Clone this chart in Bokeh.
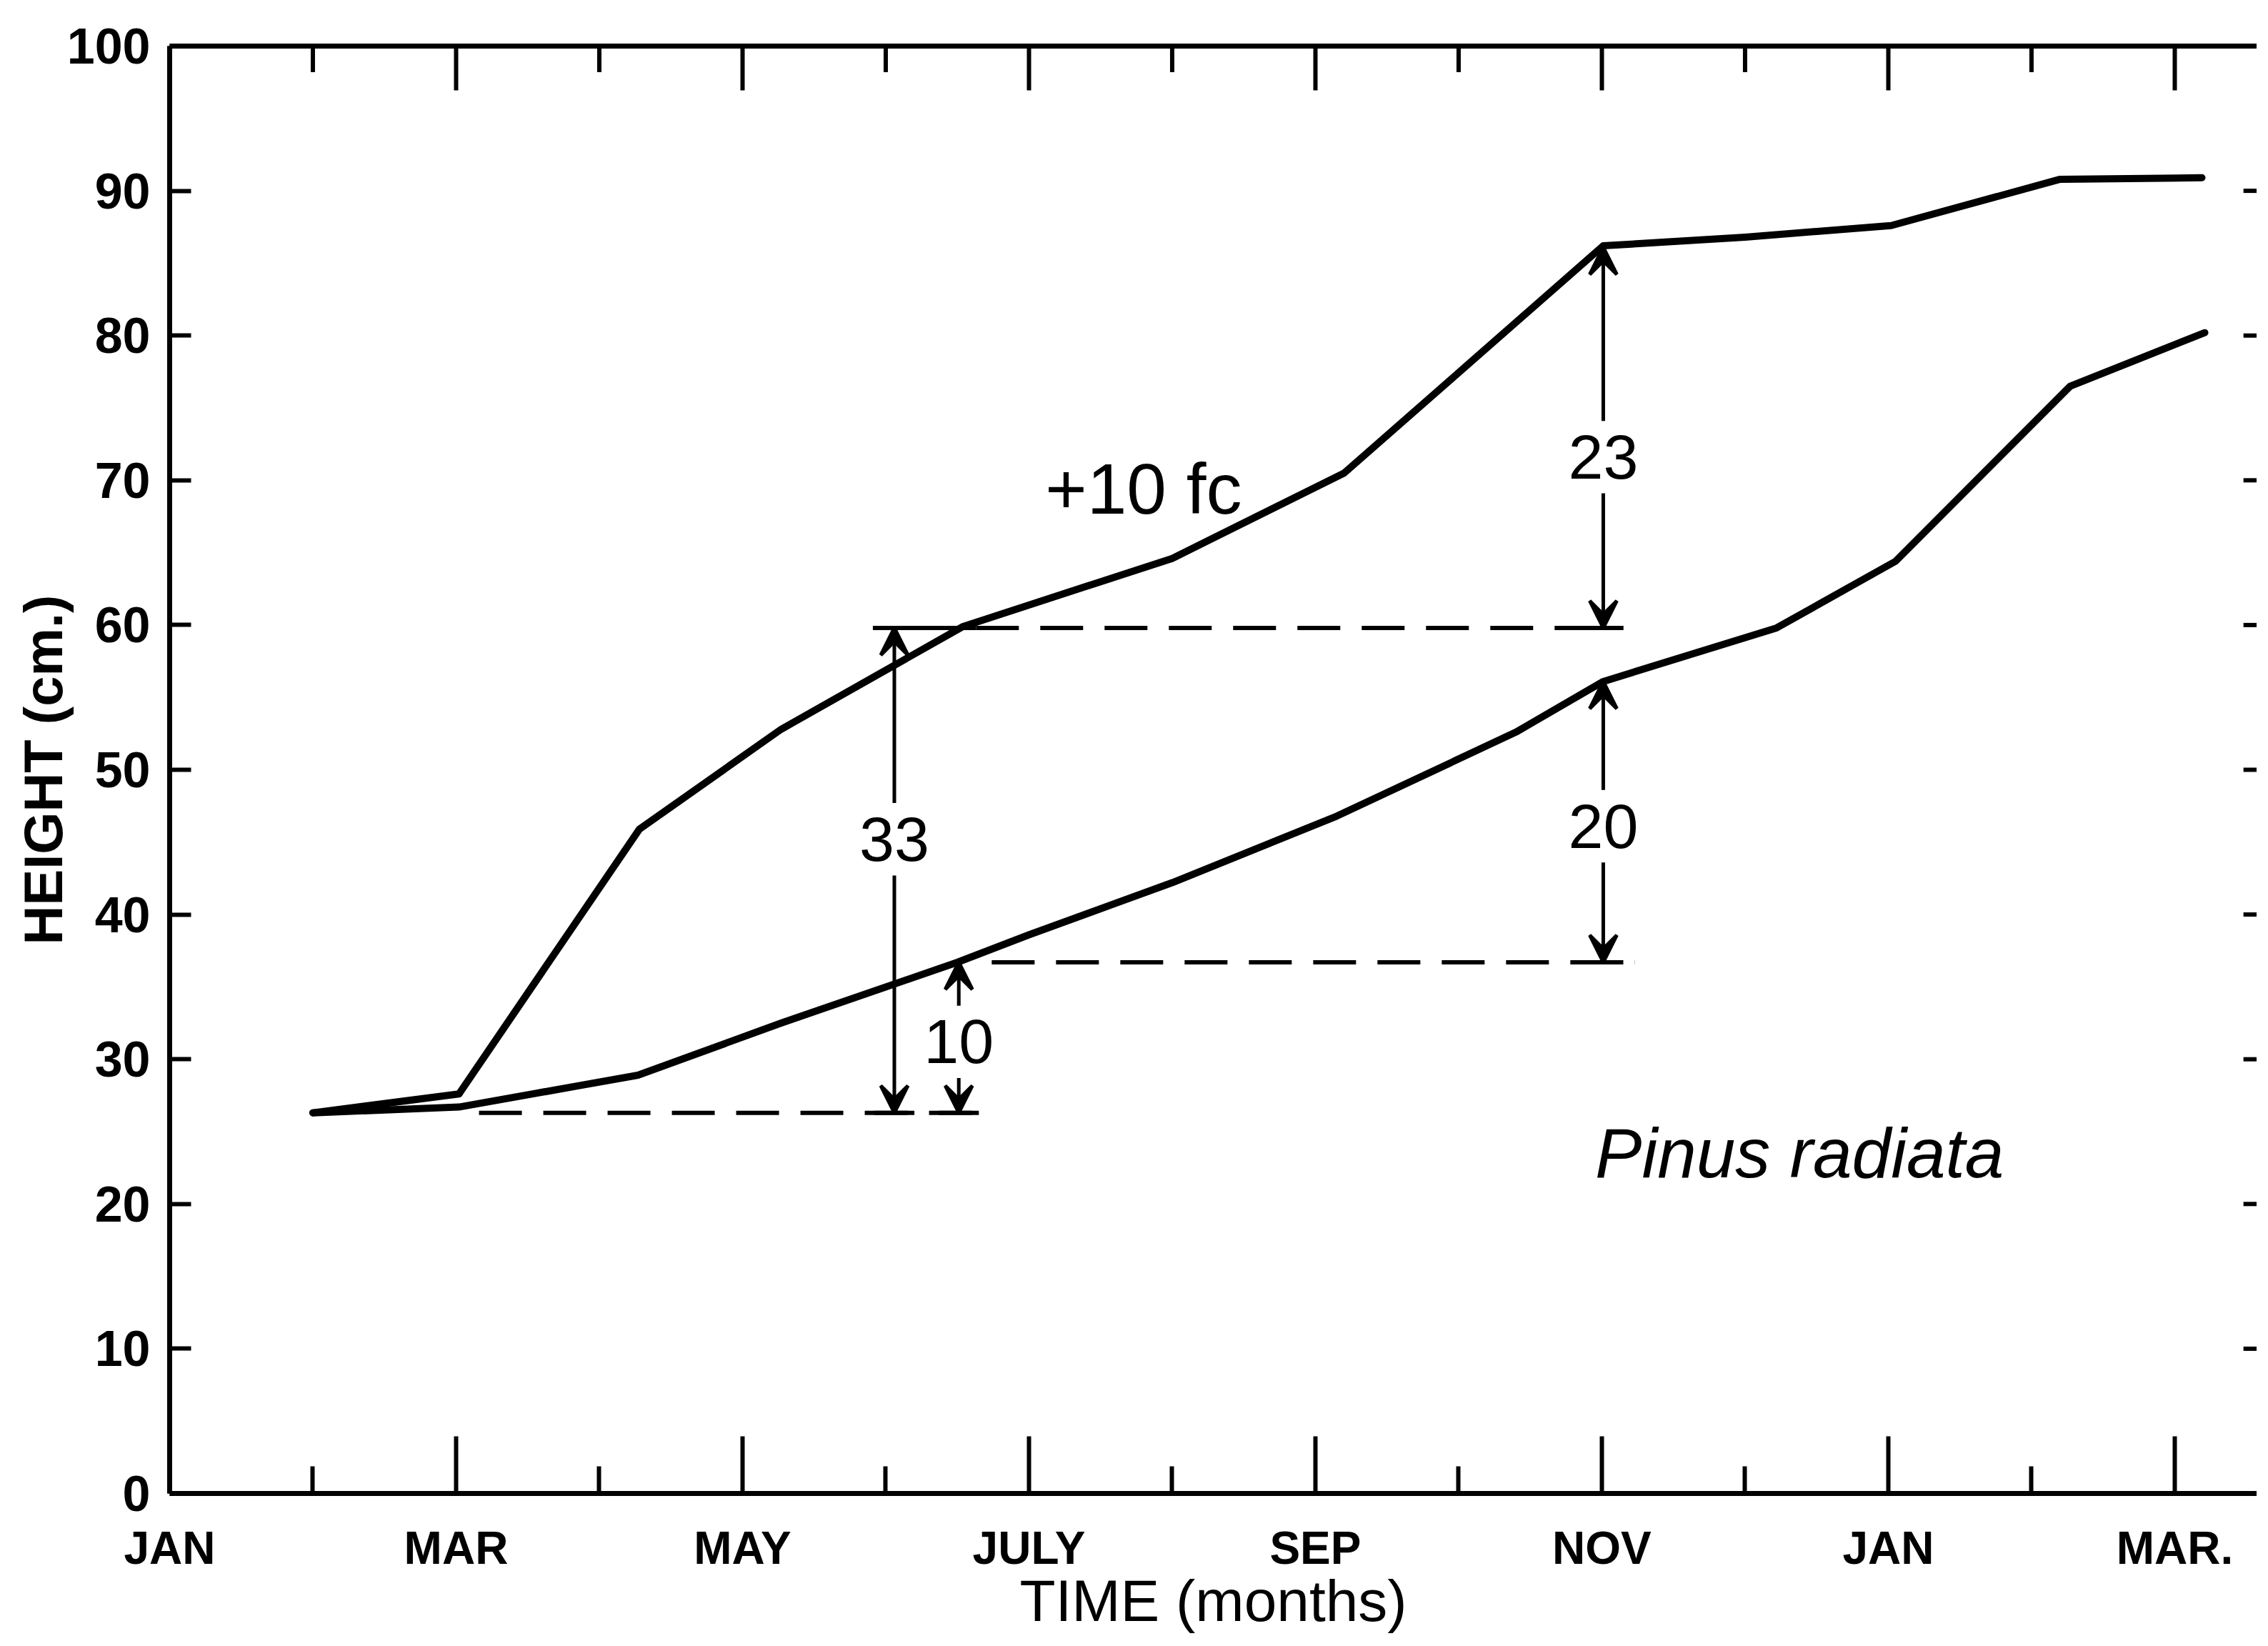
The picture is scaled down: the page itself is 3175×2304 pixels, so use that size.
from bokeh.plotting import figure
from bokeh.models import Range1d, FixedTicker, LinearAxis, Arrow, VeeHead, ColumnDataSource
from bokeh.core.properties import value
from bokeh.embed import file_html
from bokeh.resources import INLINE

# ---------------- data ----------------
month_labels = {0: "JAN", 2: "MAR", 4: "MAY", 6: "JULY", 8: "SEP",
                10: "NOV", 12: "JAN", 14: "MAR."}
major_months = [0, 2, 4, 6, 8, 10, 12, 14]
minor_months = [1, 3, 5, 7, 9, 11, 13]
y_ticks = [0, 10, 20, 30, 40, 50, 60, 70, 80, 90, 100]

# +10 fc series (month index counted from the first JAN, height in cm)
fc_month = [1.0, 2.02, 3.28, 4.27, 5.54, 7.0, 8.2, 10.01, 11.0, 12.02, 13.2, 14.19]
fc_height = [26.3, 27.6, 45.9, 52.8, 59.9, 64.6, 70.5, 86.2, 86.8, 87.6, 90.8, 90.9]

# control series
ctl_month = [1.0, 2.02, 3.27, 4.27, 5.5, 6.0, 7.0, 8.15, 9.4, 10.01, 11.22, 12.05, 13.27, 14.21]
ctl_height = [26.3, 26.7, 28.9, 32.5, 36.7, 38.6, 42.2, 46.8, 52.6, 56.1, 59.8, 64.4, 76.5, 80.2]

# dashed reference levels: level, start month, end month
ref_level = [26.3, 59.8, 36.7]
ref_start = [2.16, 5.63, 5.74]
ref_end = [5.65, 10.15, 10.23]
# solid part of the upper reference line (from the arrow top to the curve)
solid_level = [59.8]
solid_start = [4.91]
solid_end = [5.63]

# difference arrows: month, bottom, top, label, label height
arr_month = [5.06, 5.51, 10.01, 10.01]
arr_low = [26.3, 26.3, 59.8, 36.7]
arr_high = [59.8, 36.7, 86.1, 56.1]
arr_text = ["33", "10", "23", "20"]
arr_label_y = [45.2, 31.2, 71.6, 46.1]

# ---------------- figure ----------------
X_END = 14.574
p = figure(width=3159, height=2288, x_range=Range1d(0, X_END), y_range=Range1d(0, 100),
           output_backend="svg", toolbar_location=None,
           min_border_left=237, min_border_right=0, min_border_top=64, min_border_bottom=193,
           x_axis_location=None, y_axis_location=None)
p.outline_line_color = None
p.grid.visible = False
p.background_fill_color = "white"
p.border_fill_color = "white"

FONT = "Liberation Sans"
LW = 7

xb = LinearAxis(ticker=FixedTicker(ticks=major_months, minor_ticks=minor_months),
                major_label_overrides=month_labels, axis_label="TIME (months)")
xb.axis_line_width = LW
xb.major_tick_in = 80
xb.major_tick_out = 0
xb.minor_tick_in = 38
xb.minor_tick_out = 0
xb.major_tick_line_width = 6
xb.minor_tick_line_width = 6
xb.major_label_standoff = 40
xb.major_label_text_font = FONT
xb.major_label_text_font_style = "bold"
xb.major_label_text_font_size = "64px"
xb.major_label_text_color = "black"
xb.axis_label_text_font = FONT
xb.axis_label_text_font_style = "normal"
xb.axis_label_text_font_size = "82px"
xb.axis_label_text_color = "black"
xb.axis_label_standoff = -11
p.add_layout(xb, "below")

# top frame line with the even-month ticks
xt = LinearAxis(ticker=FixedTicker(ticks=[], minor_ticks=major_months))
xt.axis_line_width = LW
xt.minor_tick_in = 62
xt.minor_tick_out = 0
xt.minor_tick_line_width = 6
xt.major_label_standoff = 0
p.add_layout(xt, "above")
# odd-month ticks on the top edge
p.segment(x0=minor_months, x1=minor_months, y0=[100] * len(minor_months),
          y1=[98.2] * len(minor_months), line_color="black", line_width=6)

yl = LinearAxis(ticker=FixedTicker(ticks=y_ticks), axis_label="HEIGHT (cm.)")
yl.axis_line_width = LW
yl.major_tick_in = 30
yl.major_tick_out = 0
yl.major_tick_line_width = 6
yl.minor_tick_line_color = None
yl.major_label_standoff = 27
yl.major_label_text_font = FONT
yl.major_label_text_font_style = "bold"
yl.major_label_text_font_size = "70px"
yl.major_label_text_color = "black"
yl.axis_label_text_font = FONT
yl.axis_label_text_font_style = "bold"
yl.axis_label_text_font_size = "76px"
yl.axis_label_text_color = "black"
yl.axis_label_standoff = -12
p.add_layout(yl, "left")

# right-hand frame ticks (the frame itself lies just beyond the picture edge)
inner = y_ticks[1:-1]
p.segment(x0=[14.48] * len(inner), x1=[X_END] * len(inner), y0=inner, y1=inner,
          line_color="black", line_width=6)

# curves
p.line(fc_month, fc_height, line_color="black", line_width=10,
       line_cap="round", line_join="round")
p.line(ctl_month, ctl_height, line_color="black", line_width=10,
       line_cap="round", line_join="round")

# dashed reference levels
p.segment(x0=ref_start, x1=ref_end, y0=ref_level, y1=ref_level,
          line_color="black", line_width=6, line_dash="60 30")
p.segment(x0=solid_start, x1=solid_end, y0=solid_level, y1=solid_level,
          line_color="black", line_width=6)
# foot bars under each arrow
p.segment(x0=[m - 0.14 for m in arr_month], x1=[m + 0.14 for m in arr_month],
          y0=arr_low, y1=arr_low, line_color="black", line_width=6)

# arrows (two halves around each label)
GAP = 2.5
up_src = ColumnDataSource(dict(x=arr_month, y0=[ly + GAP for ly in arr_label_y], y1=arr_high))
dn_src = ColumnDataSource(dict(x=arr_month, y0=[ly - GAP for ly in arr_label_y], y1=arr_low))
for src in (up_src, dn_src):
    p.add_layout(Arrow(end=VeeHead(size=38, line_width=5, line_color="black"),
                       x_start="x", y_start="y0", x_end="x", y_end="y1",
                       line_width=5, line_color="black", source=src))

p.text(x=arr_month, y=arr_label_y, text=arr_text, text_align="center",
       text_baseline="middle", text_font=value(FONT), text_font_size="88px",
       text_color="black")

p.text(x=[6.8], y=[69.4], text=["+10 fc"], text_align="center", text_baseline="middle",
       text_font=value(FONT), text_font_size="100px", text_color="black")
p.text(x=[11.38], y=[23.5], text=["Pinus radiata"], text_align="center", text_baseline="middle",
       text_font=value(FONT), text_font_style="italic",
       text_font_size="98px", text_color="black")

open("out.html", "w").write(file_html(p, INLINE))
